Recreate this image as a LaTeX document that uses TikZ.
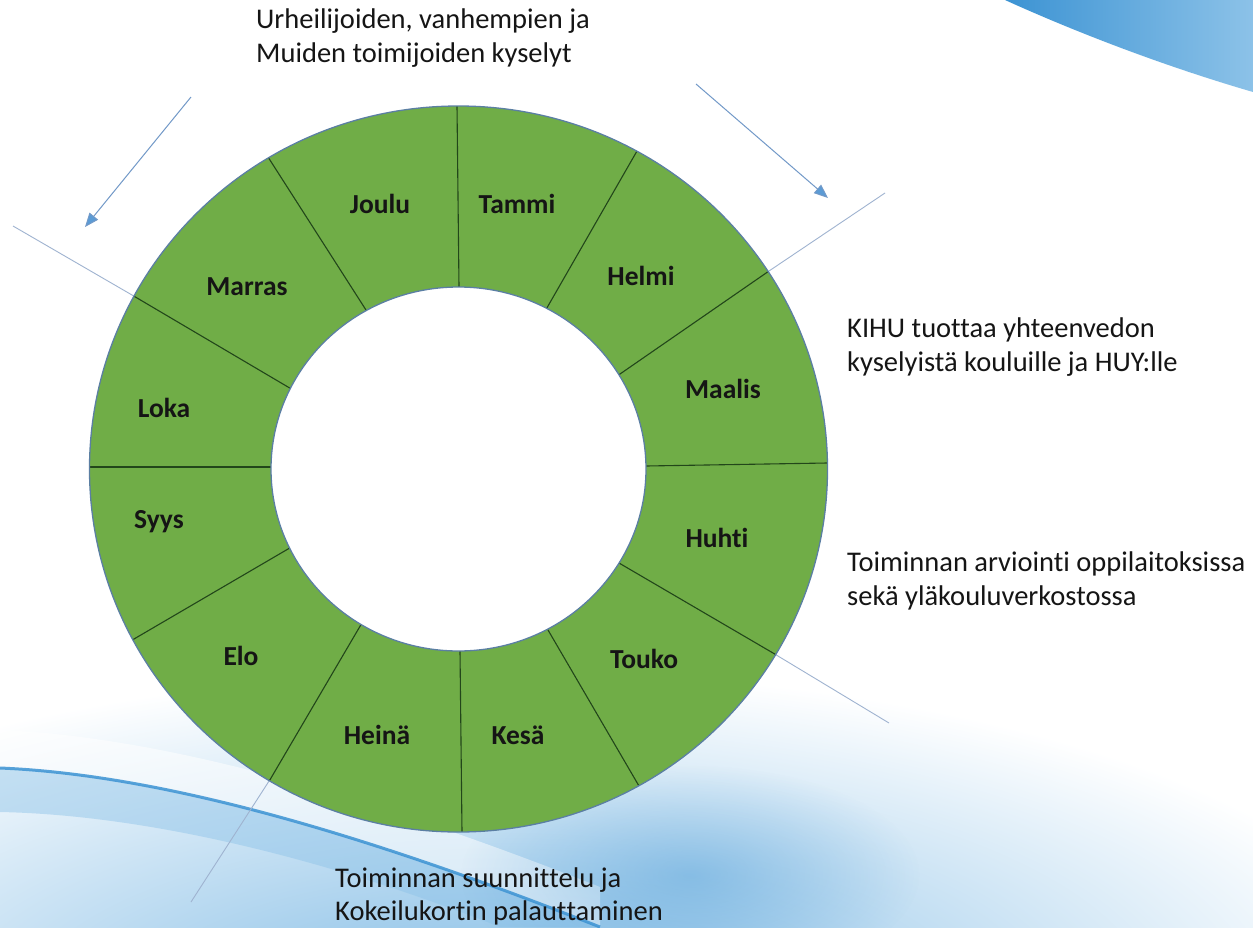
\documentclass[tikz,border=0pt]{standalone}
\usepackage{fontspec}
\setmainfont{Carlito}[Ligatures={NoCommon,NoContextual}]
\usetikzlibrary{arrows.meta,calc,fadings}
\newcommand{\nolig}{\kern0pt }
\definecolor{ringgreen}{HTML}{70AD47}
\definecolor{ringedge}{HTML}{5B7FA3}
\definecolor{divline}{HTML}{22461A}
\definecolor{arrowblue}{HTML}{7299C8}
\definecolor{arrowheadblue}{HTML}{5B9BD5}
\definecolor{extblue}{HTML}{9FB3D0}
\definecolor{swooshdark}{HTML}{3C93D3}
\definecolor{swooshmid}{HTML}{8CC2E8}
\definecolor{swooshlight}{HTML}{C6E0F3}
\definecolor{textdark}{HTML}{151515}
\tikzfading[name=softglow, inner color=transparent!0, outer color=transparent!100]
\tikzset{
  monthlabel/.style={font=\fontsize{27.5}{33}\selectfont\bfseries, text=textdark, inner sep=0pt, anchor=base},
  notetext/.style={font=\fontsize{28.5}{34}\selectfont, text=textdark, inner sep=0pt, anchor=base west},
  divider/.style={draw=divline, line width=1.1pt},
  extline/.style={draw=extblue, line width=0.9pt},
  flowarrow/.style={draw=arrowblue, line width=1pt, -{Triangle[length=14pt,width=11pt,fill=arrowheadblue]}},
  ringborder/.style={draw=ringedge, line width=1.3pt},
}
\begin{document}
\begin{tikzpicture}[x=1pt,y=-1pt]
\useasboundingbox (0,0) rectangle (1253,927);
% ---------- background ----------
\begin{scope}
\clip (0,0) rectangle (1253,927);
\fill[white] (0,0) rectangle (1253,927);
\shade[inner color=swooshmid!85!swooshdark, outer color=white] (500,1010) ellipse [x radius=920pt, y radius=340pt];
% white streak above the swoosh line
\fill[white, opacity=0.55] (0,730) .. controls (170,737) and (380,800) .. (600,887) -- (600,927) .. controls (380,840) and (170,775) .. (0,768) -- cycle;
% blue band below the swoosh line
\fill[swooshmid, opacity=0.45] (0,768) .. controls (170,775) and (380,840) .. (600,927) -- (500,927) .. controls (330,860) and (150,815) .. (0,812) -- cycle;
\fill[swooshdark, path fading=softglow, opacity=0.4] (690,875) ellipse [x radius=230pt, y radius=110pt];
\draw[swooshdark, line width=3pt, opacity=0.85] (0,768) .. controls (170,775) and (380,840) .. (600,927);
% top right swoosh
\shade[left color=swooshdark, right color=swooshmid] (1005,0) .. controls (1060,25) and (1150,62) .. (1253,92) -- (1253,0) -- cycle;
\end{scope}
% ---------- coordinates ----------
\coordinate (C) at (458.5,469);
\coordinate (i1) at (459,287);  \coordinate (o1) at (457,106);
\coordinate (i2) at (548,306);  \coordinate (o2) at (637,151);
\coordinate (i3) at (620,374);  \coordinate (o3) at (769,271);
\coordinate (i4) at (646,466);  \coordinate (o4) at (827,463);
\coordinate (i5) at (619,563);  \coordinate (o5) at (773,653);
\coordinate (i6) at (548,630);  \coordinate (o6) at (639,786);
\coordinate (i7) at (460,651);  \coordinate (o7) at (462,832);
\coordinate (i8) at (359,628);  \coordinate (o8) at (271,778);
\coordinate (i9) at (288,549);  \coordinate (o9) at (134,639);
\coordinate (i10) at (271,467); \coordinate (o10) at (89,467);
\coordinate (i11) at (288,387); \coordinate (o11) at (132,295);
\coordinate (i12) at (366,310); \coordinate (o12) at (268,157);
\coordinate (f1) at (13,226);
\coordinate (f2) at (885,193);
\coordinate (f3) at (889,723);
\coordinate (f4) at (191,902);
\coordinate (a1s) at (191,97);  \coordinate (a1e) at (85,227);
\coordinate (a2s) at (696,84);  \coordinate (a2e) at (828,198);
% ---------- extension lines ----------
\draw[extline] (f1) -- ($(f1)!1.1!(o11)$);
\draw[extline] (f2) -- ($(f2)!1.1!(o3)$);
\draw[extline] (f3) -- ($(f3)!1.1!(o5)$);
\draw[extline] (f4) -- ($(f4)!1.1!(o8)$);
% ---------- ring ----------
\fill[ringgreen] (C) ellipse [x radius=369pt, y radius=363pt];
\begin{scope}
\clip (C) ellipse [x radius=369pt, y radius=363pt];
\foreach \k in {1,...,12} {
  \draw[divider] ($(o\k)!1.15!(i\k)$) -- ($(i\k)!1.3!(o\k)$);
}
\end{scope}
\draw[ringborder] (C) ellipse [x radius=369pt, y radius=363pt];
\filldraw[ringborder, fill=white] (C) ellipse [x radius=187.5pt, y radius=182pt];
% ---------- month labels ----------
\node[monthlabel] (joulu)  at (380,213) {Joulu};
\node[monthlabel] (tammi)  at (517,213) {Tammi};
\node[monthlabel] (helmi)  at (641,285) {Helmi};
\node[monthlabel] (maalis) at (723,398) {Maalis};
\node[monthlabel] (huhti)  at (717,547) {Huht\nolig i};
\node[monthlabel] (touko)  at (644,668) {Touko};
\node[monthlabel] (kesa)   at (518,744) {Kesä};
\node[monthlabel] (heina)  at (377,744) {Heinä};
\node[monthlabel] (elo)    at (241,665) {Elo};
\node[monthlabel] (syys)   at (159,528) {Syys};
\node[monthlabel] (loka)   at (164,417) {Loka};
\node[monthlabel] (marras) at (247,295) {Marras};
% ---------- arrows ----------
\draw[flowarrow] (a1s) -- (a1e);
\draw[flowarrow] (a2s) -- (a2e);
% ---------- notes ----------
\node[notetext] (n1a) at (256,28) {Urheilijoiden, vanhempien ja};
\node[notetext] (n1b) at (256,62) {Muiden toimijoiden kyselyt};
\node[notetext] (n2a) at (847,337) {KIHU tuottaa yhteenvedon};
\node[notetext] (n2b) at (847,371) {kyselyistä kouluille ja HUY:lle};
\node[notetext] (n3a) at (847,571) {Toiminnan arvioint\nolig i oppilaitoksissa};
\node[notetext] (n3b) at (847,605) {sekä yläkouluverkostossa};
\node[notetext] (n4a) at (335,887) {Toiminnan suunnit\nolig telu ja};
\node[notetext] (n4b) at (335,920) {Kokeilukort\nolig in palaut\nolig taminen};
\end{tikzpicture}
\end{document}
